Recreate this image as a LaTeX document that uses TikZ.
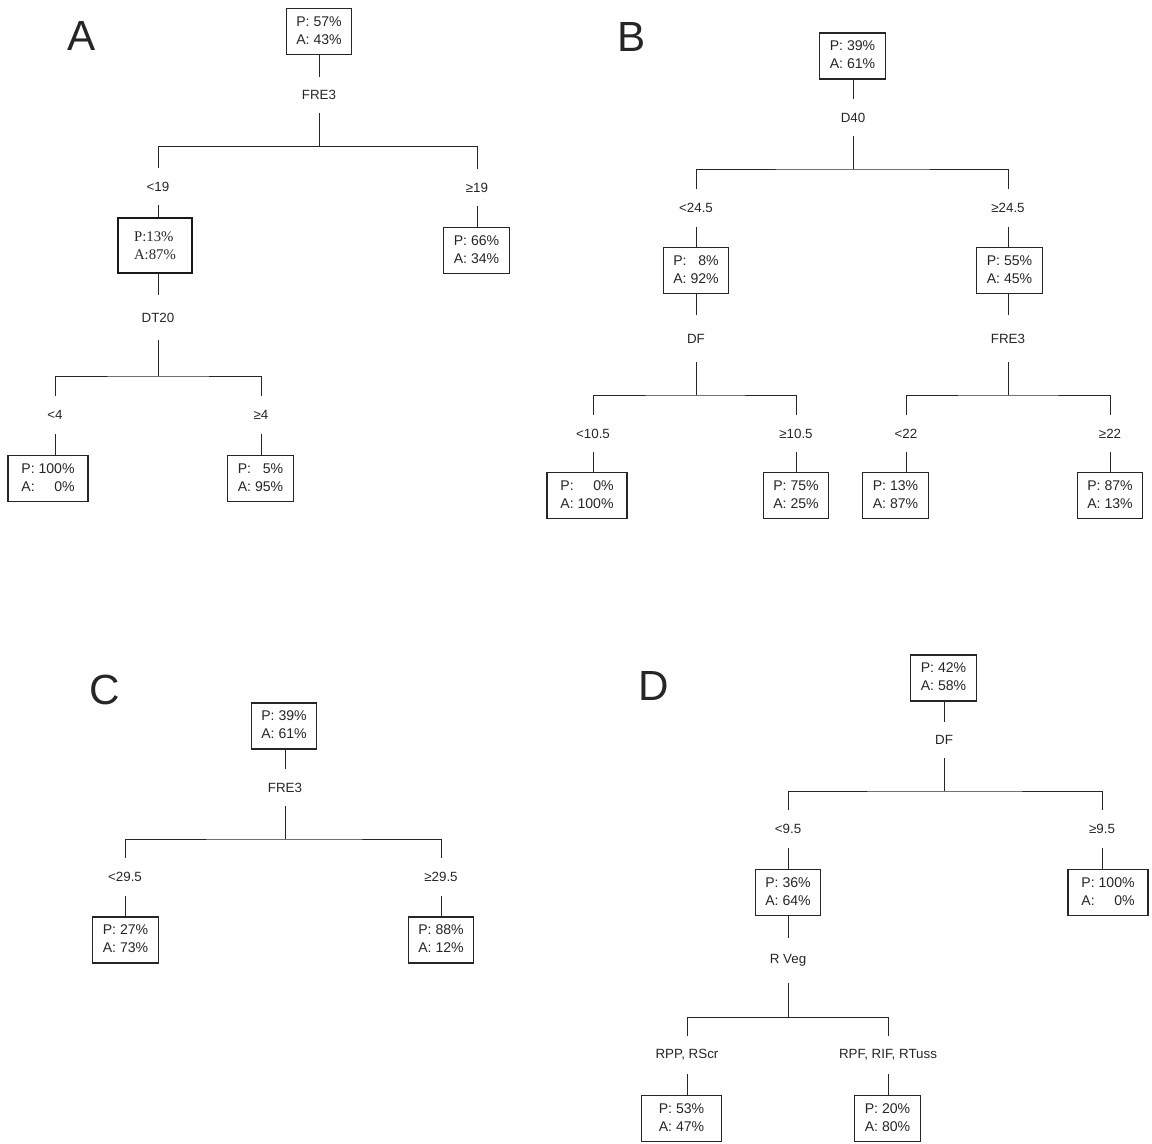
\documentclass[tikz,border=0pt]{standalone}
\usepackage{fontspec}
\setmainfont{Liberation Sans}
\newfontfamily\oldserif{Liberation Serif}

\newcommand{\pashare}[2]{\begin{tabular}{@{}l@{\ }r@{}}P:&#1\%\\A:&#2\%\end{tabular}}

\begin{document}
\begin{tikzpicture}[x=0.025cm,y=-0.025cm,
    every node/.style={text=black!85},
    box/.style={draw=black!85,line width=0.8pt,inner xsep=0.25cm,inner ysep=0pt,
        minimum height=1.15cm,font=\fontsize{10}{12.8}\selectfont},
    wide/.style={minimum width=2cm},
    oldbox/.style={draw=black!90,line width=1.5pt,align=left,inner sep=0pt,
        minimum width=1.85cm,minimum height=1.37cm,font=\oldserif\fontsize{10.5}{13}\selectfont},
    split/.style={inner sep=0pt,minimum height=0.9cm,font=\fontsize{9.5}{11}\selectfont},
    cut/.style={split,minimum height=0.92cm},
    panel/.style={font=\fontsize{30}{36}\selectfont},
    link/.style={draw=black!85,line width=0.6pt}]
\useasboundingbox (0,0) rectangle (1152,1144);

\node[panel] (labA) at (82,36) {A};
\node[box] (rootA) at (319,31.5) {\pashare{57}{43}};
\node[split] (fre3A) at (319,95) {FRE3};
\coordinate (jA) at (319,146.5);
\node[cut] (ltA) at (158,186.5) {<19};
\node[cut] (geA) at (477,187.5) {≥19};
\node[oldbox] (boxA1) at (155,245.5) {P:13\%\\A:87\%};
\node[box] (boxA2) at (476.5,250.5) {\pashare{66}{34}};
\node[split,minimum height=1.12cm] (dtA) at (158,317.5) {DT20};
\coordinate (jA1) at (158,376);
\node[cut] (ltA1) at (55,415) {<4};
\node[cut] (geA1) at (261,415) {≥4};
\node[box,wide] (boxA3) at (48,478.5) {\pashare{100}{0}};
\node[box] (boxA4) at (260.5,478.5) {\pashare{5}{95}};

\draw[link] (fre3A |- rootA.south) -- (fre3A) -- (jA);
\draw[link] (ltA) |- (jA) -| (geA);
\draw[link] (ltA) -- (ltA |- boxA1.north);
\draw[link] (geA) -- (geA |- boxA2.north);
\draw[link] (dtA |- boxA1.south) -- (dtA) -- (jA1);
\draw[link] (ltA1) |- (jA1) -| (geA1);
\draw[link] (ltA1) -- (ltA1 |- boxA3.north);
\draw[link] (geA1) -- (geA1 |- boxA4.north);

\node[panel] (labB) at (632,37) {B};
\node[box] (rootB) at (852.5,56) {\pashare{39}{61}};
\node[split] (d40B) at (853,117.5) {D40};
\coordinate (jB) at (853,169);
\node[cut] (ltB) at (696,208) {<24.5};
\node[cut] (geB) at (1008,208) {≥24.5};
\node[box] (boxB1) at (696,270.5) {\pashare{8}{92}};
\node[box] (boxB2) at (1009.5,270.5) {\pashare{55}{45}};
\node[split,minimum height=1.17cm] (dfB) at (696,338.5) {DF};
\node[split,minimum height=1.17cm] (fre3B) at (1008,338.5) {FRE3};
\coordinate (jB1) at (696,395);
\coordinate (jB2) at (1008,395);
\node[cut] (ltB1) at (593,433.5) {<10.5};
\node[cut] (geB1) at (796,433.5) {≥10.5};
\node[cut] (ltB2) at (906,433.5) {<22};
\node[cut] (geB2) at (1110,433.5) {≥22};
\node[box,wide] (boxB3) at (587,495.5) {\pashare{0}{100}};
\node[box] (boxB4) at (796,495.5) {\pashare{75}{25}};
\node[box] (boxB5) at (895.5,495.5) {\pashare{13}{87}};
\node[box] (boxB6) at (1110,495.5) {\pashare{87}{13}};

\draw[link] (d40B |- rootB.south) -- (d40B) -- (jB);
\draw[link] (ltB) |- (jB) -| (geB);
\draw[link] (ltB) -- (ltB |- boxB1.north);
\draw[link] (geB) -- (geB |- boxB2.north);
\draw[link] (dfB |- boxB1.south) -- (dfB) -- (jB1);
\draw[link] (fre3B |- boxB2.south) -- (fre3B) -- (jB2);
\draw[link] (ltB1) |- (jB1) -| (geB1);
\draw[link] (ltB2) |- (jB2) -| (geB2);
\draw[link] (ltB1) -- (ltB1 |- boxB3.north);
\draw[link] (geB1) -- (geB1 |- boxB4.north);
\draw[link] (ltB2) -- (ltB2 |- boxB5.north);
\draw[link] (geB2) -- (geB2 |- boxB6.north);

\node[panel] (labC) at (105,690) {C};
\node[box] (rootC) at (284,726) {\pashare{39}{61}};
\node[split] (fre3C) at (285,787.5) {FRE3};
\coordinate (jC) at (285,839);
\node[cut] (ltC) at (125,877) {<29.5};
\node[cut] (geC) at (441,877) {≥29.5};
\node[box] (boxC1) at (125.5,940) {\pashare{27}{73}};
\node[box] (boxC2) at (441,940) {\pashare{88}{12}};

\draw[link] (fre3C |- rootC.south) -- (fre3C) -- (jC);
\draw[link] (ltC) |- (jC) -| (geC);
\draw[link] (ltC) -- (ltC |- boxC1.north);
\draw[link] (geC) -- (geC |- boxC2.north);

\node[panel] (labD) at (654,686) {D};
\node[box] (rootD) at (943.5,678) {\pashare{42}{58}};
\node[split] (dfD) at (944,740) {DF};
\coordinate (jD) at (944,791);
\node[cut] (ltD) at (788,829) {<9.5};
\node[cut] (geD) at (1102,829) {≥9.5};
\node[box] (boxD1) at (788,892.5) {\pashare{36}{64}};
\node[box,wide] (boxD2) at (1108,892.5) {\pashare{100}{0}};
\node[split,minimum height=1.12cm] (vegD) at (788,960.5) {R Veg};
\coordinate (jD1) at (788,1017);
\node[cut] (ltD1) at (687,1055) {RPP, RScr};
\node[cut] (geD1) at (888,1055) {RPF, RIF, RTuss};
\node[box,wide] (boxD3) at (681.5,1118.5) {\pashare{53}{47}};
\node[box] (boxD4) at (887.5,1118.5) {\pashare{20}{80}};

\draw[link] (dfD |- rootD.south) -- (dfD) -- (jD);
\draw[link] (ltD) |- (jD) -| (geD);
\draw[link] (ltD) -- (ltD |- boxD1.north);
\draw[link] (geD) -- (geD |- boxD2.north);
\draw[link] (vegD |- boxD1.south) -- (vegD) -- (jD1);
\draw[link] (ltD1) |- (jD1) -| (geD1);
\draw[link] (ltD1) -- (ltD1 |- boxD3.north);
\draw[link] (geD1) -- (geD1 |- boxD4.north);
\end{tikzpicture}
\end{document}
